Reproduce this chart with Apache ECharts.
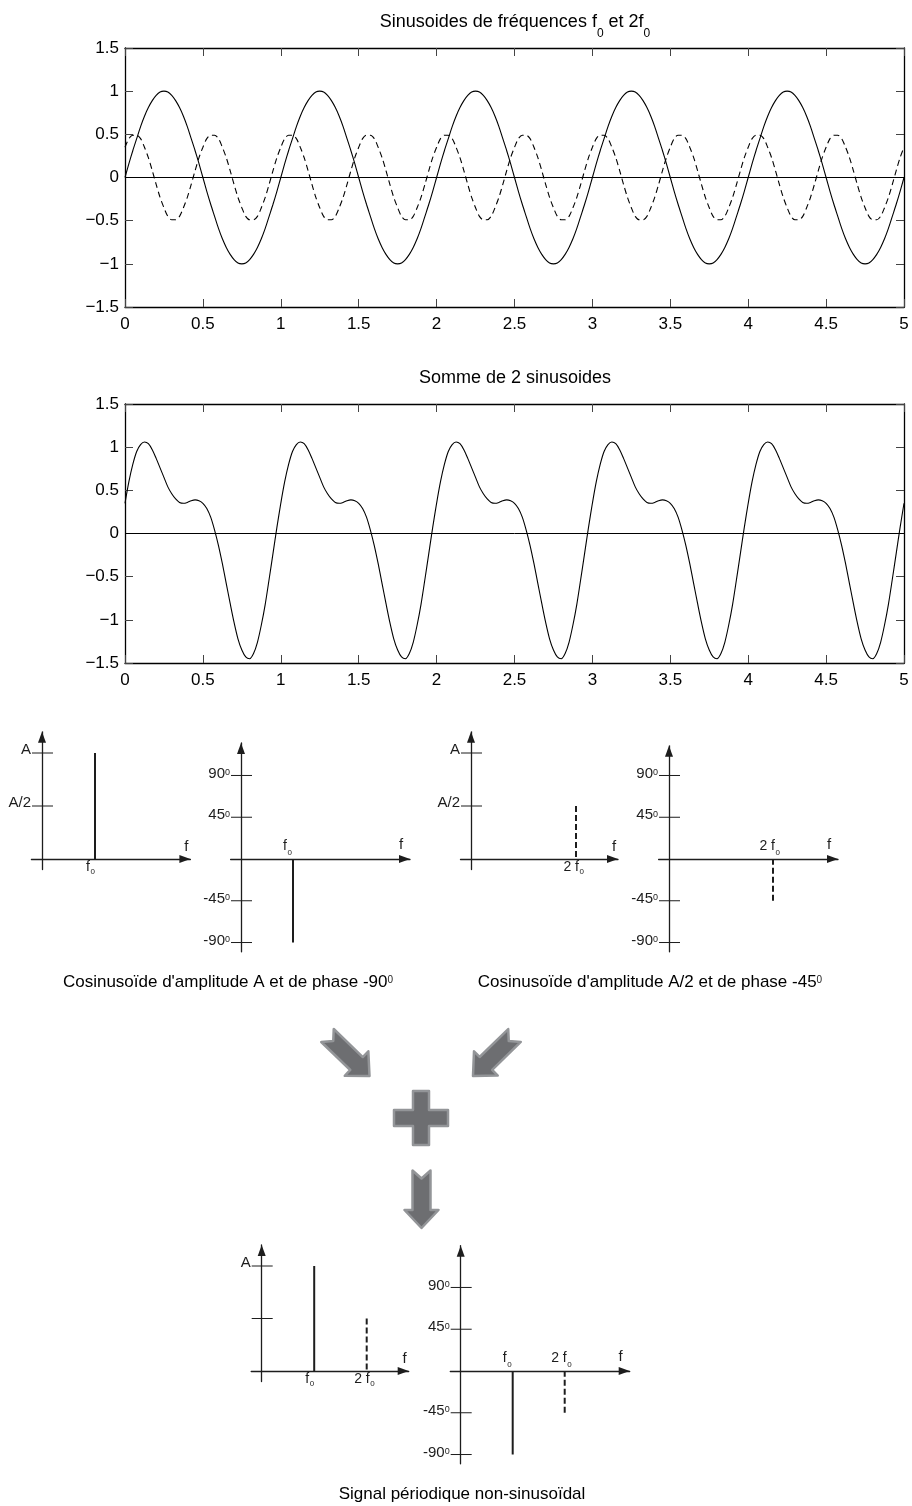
<!DOCTYPE html>
<html>
<head>
<meta charset="utf-8">
<script src="https://cdn.jsdelivr.net/npm/echarts@6/dist/echarts.min.js"></script>
<style>
  html, body { margin: 0; padding: 0; background: #fff; }
  #chart { width: 912px; height: 1506px; }
</style>
</head>
<body>
<div id="chart"></div>
<script>
// ---- time signals, sampled every 0.025 s over 0..5 s ----
const T_STEP = 0.025;

// fundamental, frequency f0, amplitude 1
const fundamental = [
  0,.16,.31,.45,.59,.71,.81,.89,.95,.99,1,.99,.95,.89,.81,.71,.59,.45,.31,.16,0,-.16,-.31,-.45,-.59,-.71,-.81,-.89,-.95,-.99,-1,-.99,-.95,-.89,-.81,-.71,-.59,-.45,-.31,-.16,
  0,.16,.31,.45,.59,.71,.81,.89,.95,.99,1,.99,.95,.89,.81,.71,.59,.45,.31,.16,0,-.16,-.31,-.45,-.59,-.71,-.81,-.89,-.95,-.99,-1,-.99,-.95,-.89,-.81,-.71,-.59,-.45,-.31,-.16,
  0,.16,.31,.45,.59,.71,.81,.89,.95,.99,1,.99,.95,.89,.81,.71,.59,.45,.31,.16,0,-.16,-.31,-.45,-.59,-.71,-.81,-.89,-.95,-.99,-1,-.99,-.95,-.89,-.81,-.71,-.59,-.45,-.31,-.16,
  0,.16,.31,.45,.59,.71,.81,.89,.95,.99,1,.99,.95,.89,.81,.71,.59,.45,.31,.16,0,-.16,-.31,-.45,-.59,-.71,-.81,-.89,-.95,-.99,-1,-.99,-.95,-.89,-.81,-.71,-.59,-.45,-.31,-.16,
  0,.16,.31,.45,.59,.71,.81,.89,.95,.99,1,.99,.95,.89,.81,.71,.59,.45,.31,.16,0,-.16,-.31,-.45,-.59,-.71,-.81,-.89,-.95,-.99,-1,-.99,-.95,-.89,-.81,-.71,-.59,-.45,-.31,-.16,
  0
];

// harmonic, frequency 2 f0, amplitude 0.5 (dashed)
const harmonic = [
  .35,.45,.49,.49,.45,.35,.23,.08,-.08,-.23,-.35,-.45,-.49,-.49,-.45,-.35,-.23,-.08,.08,.23,
  .35,.45,.49,.49,.45,.35,.23,.08,-.08,-.23,-.35,-.45,-.49,-.49,-.45,-.35,-.23,-.08,.08,.23,
  .35,.45,.49,.49,.45,.35,.23,.08,-.08,-.23,-.35,-.45,-.49,-.49,-.45,-.35,-.23,-.08,.08,.23,
  .35,.45,.49,.49,.45,.35,.23,.08,-.08,-.23,-.35,-.45,-.49,-.49,-.45,-.35,-.23,-.08,.08,.23,
  .35,.45,.49,.49,.45,.35,.23,.08,-.08,-.23,-.35,-.45,-.49,-.49,-.45,-.35,-.23,-.08,.08,.23,
  .35,.45,.49,.49,.45,.35,.23,.08,-.08,-.23,-.35,-.45,-.49,-.49,-.45,-.35,-.23,-.08,.08,.23,
  .35,.45,.49,.49,.45,.35,.23,.08,-.08,-.23,-.35,-.45,-.49,-.49,-.45,-.35,-.23,-.08,.08,.23,
  .35,.45,.49,.49,.45,.35,.23,.08,-.08,-.23,-.35,-.45,-.49,-.49,-.45,-.35,-.23,-.08,.08,.23,
  .35,.45,.49,.49,.45,.35,.23,.08,-.08,-.23,-.35,-.45,-.49,-.49,-.45,-.35,-.23,-.08,.08,.23,
  .35,.45,.49,.49,.45,.35,.23,.08,-.08,-.23,-.35,-.45,-.49,-.49,-.45,-.35,-.23,-.08,.08,.23,
  .35
];

// sum of the two sinusoids
const combined = [
  .35,.6,.8,.95,1.03,1.06,1.04,.97,.87,.76,.65,.54,.46,.4,.36,.35,.36,.38,.39,.38,.35,.29,.19,.04,-.14,-.35,-.58,-.81,-1.03,-1.22,-1.35,-1.43,-1.45,-1.39,-1.26,-1.06,-.82,-.53,-.23,.07,
  .35,.6,.8,.95,1.03,1.06,1.04,.97,.87,.76,.65,.54,.46,.4,.36,.35,.36,.38,.39,.38,.35,.29,.19,.04,-.14,-.35,-.58,-.81,-1.03,-1.22,-1.35,-1.43,-1.45,-1.39,-1.26,-1.06,-.82,-.53,-.23,.07,
  .35,.6,.8,.95,1.03,1.06,1.04,.97,.87,.76,.65,.54,.46,.4,.36,.35,.36,.38,.39,.38,.35,.29,.19,.04,-.14,-.35,-.58,-.81,-1.03,-1.22,-1.35,-1.43,-1.45,-1.39,-1.26,-1.06,-.82,-.53,-.23,.07,
  .35,.6,.8,.95,1.03,1.06,1.04,.97,.87,.76,.65,.54,.46,.4,.36,.35,.36,.38,.39,.38,.35,.29,.19,.04,-.14,-.35,-.58,-.81,-1.03,-1.22,-1.35,-1.43,-1.45,-1.39,-1.26,-1.06,-.82,-.53,-.23,.07,
  .35,.6,.8,.95,1.03,1.06,1.04,.97,.87,.76,.65,.54,.46,.4,.36,.35,.36,.38,.39,.38,.35,.29,.19,.04,-.14,-.35,-.58,-.81,-1.03,-1.22,-1.35,-1.43,-1.45,-1.39,-1.26,-1.06,-.82,-.53,-.23,.07,
  .35
];

// ---- line spectra ----
const freqs = [1, 2];                 // f0, 2 f0
const amplitudes = [1, 0.5];          // A, A/2
const phases = [-90, -45];            // degrees
const freqLabels = ['f', '2 f'];      // followed by a subscript 0
const ampTicks = [1, 0.5];
const ampTickLabels = ['A', 'A/2'];
const phaseTicks = [90, 45, -45, -90];
const phaseTickLabels = ['90', '45', '-45', '-90'];   // followed by a small 0

const FONT = "'Liberation Sans', Arial, Helvetica, sans-serif";
const INK = '#1d1d1d';

const sampleTimes = fundamental.map((_, i) => +(i * T_STEP).toFixed(3));

const option = {
  animation: false,
  backgroundColor: '#fff',
  grid: [], xAxis: [], yAxis: [], series: [], graphic: []
};

// ---------- boxed time plots ----------
function addTimePlot(box, curves) {
  const gi = option.grid.length;
  const xi = option.xAxis.length;
  const yi = option.yAxis.length;
  option.grid.push({ left: box[0], top: box[1], width: box[2], height: box[3] });
  const line = { show: true, onZero: false, lineStyle: { color: '#000', width: 1.3 } };
  const tick = { show: true, inside: true, length: 8, lineStyle: { color: '#444', width: 1 } };
  const base = { type: 'value', gridIndex: gi, axisLine: line, axisTick: tick, splitLine: { show: false } };
  option.xAxis.push(Object.assign({}, base, {
    min: 0, max: 5, interval: 0.5, position: 'bottom',
    axisLabel: { show: true, color: '#000', fontSize: 17, fontFamily: FONT, margin: 9,
                 showMinLabel: true, showMaxLabel: true, hideOverlap: false }
  }));
  option.xAxis.push(Object.assign({}, base, {
    min: 0, max: 5, interval: 0.5, position: 'top', axisLabel: { show: false }
  }));
  option.yAxis.push(Object.assign({}, base, {
    min: -1.5, max: 1.5, interval: 0.5, position: 'left',
    axisLabel: { show: true, color: '#000', fontSize: 17, fontFamily: FONT, margin: 6,
                 showMinLabel: true, showMaxLabel: true, hideOverlap: false,
                 formatter: v => String(v).replace('-', '\u2212') }
  }));
  option.yAxis.push(Object.assign({}, base, {
    min: -1.5, max: 1.5, interval: 0.5, position: 'right', axisLabel: { show: false }
  }));
  curves.forEach((c, k) => {
    const s = {
      type: 'line', xAxisIndex: xi, yAxisIndex: yi, silent: true,
      data: sampleTimes.map((t, i) => [t, c.values[i]]),
      symbol: 'none', showSymbol: false, smooth: 0.3,
      lineStyle: { color: '#000', width: 1.1, type: c.dashed ? [6, 4] : 'solid' }
    };
    if (k === 0) {
      s.markLine = {
        silent: true, symbol: ['none', 'none'], label: { show: false },
        lineStyle: { color: '#000', width: 1, type: 'solid' },
        emphasis: { disabled: true },
        data: [{ yAxis: 0 }]
      };
    }
    option.series.push(s);
  });
}

addTimePlot([125, 48, 779, 259], [{ values: fundamental }, { values: harmonic, dashed: true }]);
addTimePlot([125, 404, 779, 259], [{ values: combined }]);

// ---------- spectrum sketches (amplitude / phase) ----------
const panels = [
  { kind: 'amp',   comps: [0],    box: [31.4, 731.8, 159, 137.8],   x: [-0.2, 2.8],  y: [-0.1, 1.2] },
  { kind: 'phase', comps: [0],    box: [230.6, 743, 179.4, 208.8],  x: [-0.2, 3.25], y: [-100, 125] },
  { kind: 'amp',   comps: [1],    box: [460.5, 731.8, 157.5, 137.8], x: [-0.2, 2.8], y: [-0.1, 1.2] },
  { kind: 'phase', comps: [1],    box: [658.6, 745.8, 179.4, 206],  x: [-0.2, 3.25], y: [-100, 122] },
  { kind: 'amp',   comps: [0, 1], box: [251.2, 1245, 157.5, 136.5], x: [-0.2, 2.8],  y: [-0.1, 1.2], tickLabels: ['A', ''] },
  { kind: 'phase', comps: [0, 1], box: [450.3, 1245.7, 179.4, 218.1], x: [-0.2, 3.25], y: [-100, 135] }
];

function addSpectrumPanel(p) {
  const gi = option.grid.length;
  const xi = option.xAxis.length;
  const yi = option.yAxis.length;
  const isAmp = p.kind === 'amp';
  option.grid.push({ left: p.box[0], top: p.box[1], width: p.box[2], height: p.box[3] });
  const axisLine = {
    show: true, onZero: true, symbol: ['none', 'triangle'], symbolSize: [8, 11],
    symbolOffset: [0, -5.5], lineStyle: { color: INK, width: 1.3 }
  };
  const hidden = { axisTick: { show: false }, axisLabel: { show: false }, splitLine: { show: false } };
  option.xAxis.push(Object.assign({ type: 'value', gridIndex: gi, min: p.x[0], max: p.x[1], axisLine }, hidden));
  option.yAxis.push(Object.assign({ type: 'value', gridIndex: gi, min: p.y[0], max: p.y[1], axisLine }, hidden));

  // spectral lines
  p.comps.forEach(c => {
    option.series.push({
      type: 'line', xAxisIndex: xi, yAxisIndex: yi, silent: true, symbol: 'none', showSymbol: false,
      data: [[freqs[c], isAmp ? amplitudes[c] : phases[c]], [freqs[c], 0]],
      lineStyle: { color: INK, width: 2, type: c === 0 ? 'solid' : [6, 3] }
    });
  });

  // crossing ticks, tick labels, frequency labels and axis name
  const ticks = isAmp ? ampTicks : phaseTicks;
  const labels = p.tickLabels || (isAmp ? ampTickLabels : phaseTickLabels.map(s => s + '{deg|0}'));
  const items = [];
  ticks.forEach((v, i) => items.push({ type: 'tick', at: [0, v], label: labels[i] }));
  p.comps.forEach(c => items.push({ type: 'freq', at: [freqs[c], 0], label: freqLabels[c] }));
  items.push({ type: 'name', at: [p.x[1], 0], label: 'f' });

  option.series.push({
    type: 'custom', xAxisIndex: xi, yAxisIndex: yi, silent: true, clip: false,
    data: items.map(it => it.at),
    renderItem: (params, api) => {
      const it = items[params.dataIndex];
      const pt = api.coord(it.at);
      if (it.type === 'tick') {
        return {
          type: 'group', children: [
            { type: 'line', shape: { x1: pt[0] - 10, y1: pt[1], x2: pt[0] + 11, y2: pt[1] },
              style: { stroke: INK, lineWidth: 1 } },
            { type: 'text', x: pt[0] - 11, y: pt[1] + (isAmp ? -3 : -2),
              style: { text: it.label, fill: INK, fontSize: 15, fontFamily: FONT,
                       align: 'right', verticalAlign: 'middle',
                       rich: { deg: { fontSize: 9, fontFamily: FONT, fill: INK, padding: [0, 0, 2, 0] } } } }
          ]
        };
      }
      if (it.type === 'freq') {
        const dx = it.label === 'f' ? (isAmp ? -5 : -6) : (isAmp ? 3 : 2);
        const dyMain = isAmp ? 8.5 : -13;
        const dySub = isAmp ? 13 : -6.5;
        return {
          type: 'group', children: [
            { type: 'text', x: pt[0] + dx, y: pt[1] + dyMain,
              style: { text: it.label, fill: INK, fontSize: 14, fontFamily: FONT, align: 'right', verticalAlign: 'middle' } },
            { type: 'text', x: pt[0] + dx + 0.5, y: pt[1] + dySub,
              style: { text: '0', fill: INK, fontSize: 8, fontFamily: FONT, align: 'left', verticalAlign: 'middle' } }
          ]
        };
      }
      return {
        type: 'text', x: pt[0] + (isAmp ? -4 : -9), y: pt[1] + (isAmp ? -12 : -14),
        style: { text: it.label, fill: INK, fontSize: 15, fontFamily: FONT, align: 'center', verticalAlign: 'middle' }
      };
    }
  });
}
panels.forEach(addSpectrumPanel);

// ---------- titles and captions ----------
function textEl(x, y, text, size, rich) {
  return {
    type: 'text', x, y, silent: true,
    style: { text, fill: '#000', fontSize: size, fontFamily: FONT, align: 'center', verticalAlign: 'middle', rich }
  };
}
const subRich = { s: { fontSize: 12, fontFamily: FONT, fill: '#000', padding: [24, 0, 0, 0] } };
const supRich = { d: { fontSize: 10, fontFamily: FONT, fill: '#222', padding: [0, 0, 4, 0] } };
option.graphic.push(textEl(515, 22, 'Sinusoides de fréquences f{s|0} et 2f{s|0}', 18, subRich));
option.graphic.push(textEl(515, 378, 'Somme de 2 sinusoides', 18));
option.graphic.push(Object.assign(textEl(228, 982, "Cosinusoïde d'amplitude A et de phase -90{d|0}", 17, supRich)));
option.graphic.push(Object.assign(textEl(650, 982, "Cosinusoïde d'amplitude A/2 et de phase -45{d|0}", 17, supRich)));
option.graphic.push(textEl(462, 1494, 'Signal périodique non-sinusoïdal', 17));

// ---------- grey block arrows and plus sign ----------
function blockArrow(tail, tip) {
  const dx = tip[0] - tail[0], dy = tip[1] - tail[1];
  const L = Math.hypot(dx, dy);
  const ux = dx / L, uy = dy / L, px = -uy, py = ux;
  const outline = [[-9, 0], [0, 8], [9, 0], [9, L - 18], [17, L - 18], [0, L], [-17, L - 18], [-9, L - 18]];
  return outline.map(([a, b]) => [tail[0] + ux * b + px * a, tail[1] + uy * b + py * a]);
}
const arrowStyle = { fill: '#6d6e71', stroke: '#939598', lineWidth: 2.5, lineJoin: 'round' };
[[[327.5, 1035.5], [369.5, 1076]], [[514.5, 1035.5], [473, 1076]], [[421.5, 1170.5], [421.5, 1228]]]
  .forEach(([a, b]) => option.graphic.push({ type: 'polygon', silent: true, shape: { points: blockArrow(a, b) }, style: arrowStyle }));

(function plusSign(cx, cy, h, w) {
  const pts = [
    [cx - w, cy - h], [cx + w, cy - h], [cx + w, cy - w], [cx + h, cy - w], [cx + h, cy + w], [cx + w, cy + w],
    [cx + w, cy + h], [cx - w, cy + h], [cx - w, cy + w], [cx - h, cy + w], [cx - h, cy - w], [cx - w, cy - w]
  ];
  option.graphic.push({ type: 'polygon', silent: true, shape: { points: pts }, style: arrowStyle });
})(421, 1118, 27, 8);

const chart = echarts.init(document.getElementById('chart'), null, { renderer: 'canvas' });
chart.setOption(option);
</script>
</body>
</html>
